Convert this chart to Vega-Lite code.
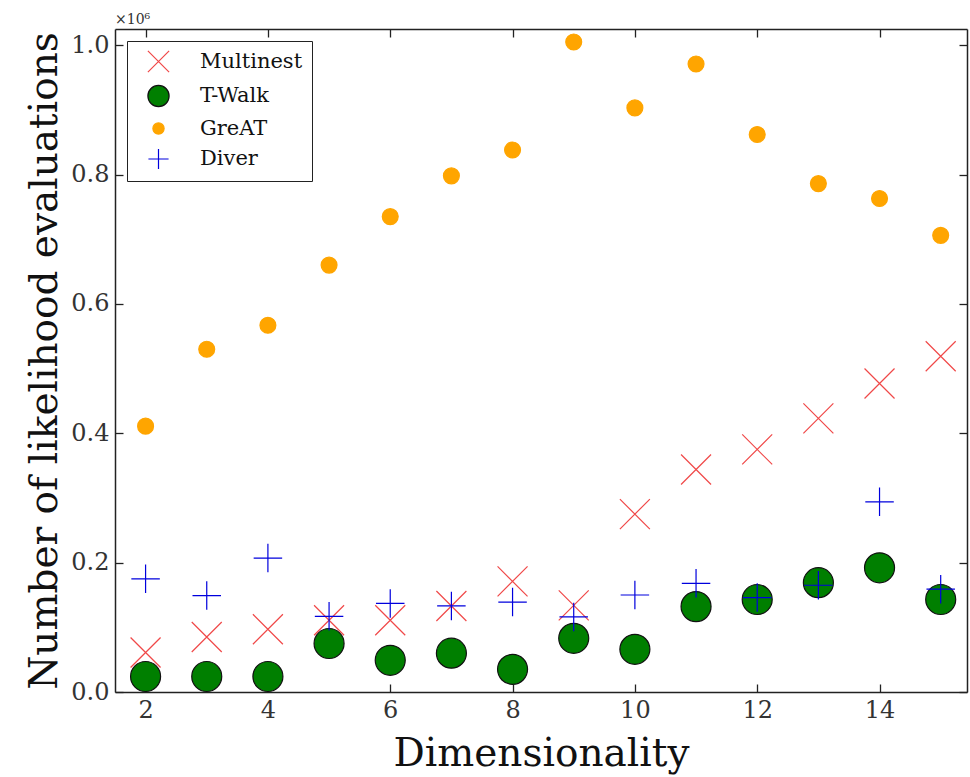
{
  "$schema": "https://vega.github.io/schema/vega-lite/v6.json",
  "width": 852,
  "height": 663,
  "autosize": "none",
  "padding": {"left": 115, "top": 29, "right": 3, "bottom": 85},
  "background": "white",
  "title": {"text": "×10⁶", "anchor": "start", "frame": "group", "offset": 1, "fontSize": 14, "font": "DejaVu Serif", "fontWeight": "normal", "color": "#333"},
  "config": {
    "view": {"stroke": null},
    "axis": {"grid": false, "domainColor": "#222", "domainWidth": 1.5, "tickColor": "#222", "tickWidth": 1.3, "labelFont": "DejaVu Serif", "labelFontSize": 24, "labelColor": "#333", "titleFont": "DejaVu Serif", "titleColor": "#111", "titleFontWeight": "normal", "titleFontSize": 39}
  },
  "data": {"values": [
    {"d": 2, "series": "Multinest", "n": 0.061},
    {"d": 3, "series": "Multinest", "n": 0.085},
    {"d": 4, "series": "Multinest", "n": 0.097},
    {"d": 5, "series": "Multinest", "n": 0.111},
    {"d": 6, "series": "Multinest", "n": 0.111},
    {"d": 7, "series": "Multinest", "n": 0.133},
    {"d": 8, "series": "Multinest", "n": 0.171},
    {"d": 9, "series": "Multinest", "n": 0.134},
    {"d": 10, "series": "Multinest", "n": 0.275},
    {"d": 11, "series": "Multinest", "n": 0.344},
    {"d": 12, "series": "Multinest", "n": 0.375},
    {"d": 13, "series": "Multinest", "n": 0.423},
    {"d": 14, "series": "Multinest", "n": 0.477},
    {"d": 15, "series": "Multinest", "n": 0.519},
    {"d": 2, "series": "T-Walk", "n": 0.024},
    {"d": 3, "series": "T-Walk", "n": 0.024},
    {"d": 4, "series": "T-Walk", "n": 0.024},
    {"d": 5, "series": "T-Walk", "n": 0.075},
    {"d": 6, "series": "T-Walk", "n": 0.049},
    {"d": 7, "series": "T-Walk", "n": 0.060},
    {"d": 8, "series": "T-Walk", "n": 0.035},
    {"d": 9, "series": "T-Walk", "n": 0.083},
    {"d": 10, "series": "T-Walk", "n": 0.066},
    {"d": 11, "series": "T-Walk", "n": 0.132},
    {"d": 12, "series": "T-Walk", "n": 0.143},
    {"d": 13, "series": "T-Walk", "n": 0.169},
    {"d": 14, "series": "T-Walk", "n": 0.192},
    {"d": 15, "series": "T-Walk", "n": 0.143},
    {"d": 2, "series": "GreAT", "n": 0.411},
    {"d": 3, "series": "GreAT", "n": 0.530},
    {"d": 4, "series": "GreAT", "n": 0.567},
    {"d": 5, "series": "GreAT", "n": 0.660},
    {"d": 6, "series": "GreAT", "n": 0.735},
    {"d": 7, "series": "GreAT", "n": 0.798},
    {"d": 8, "series": "GreAT", "n": 0.838},
    {"d": 9, "series": "GreAT", "n": 1.005},
    {"d": 10, "series": "GreAT", "n": 0.903},
    {"d": 11, "series": "GreAT", "n": 0.971},
    {"d": 12, "series": "GreAT", "n": 0.862},
    {"d": 13, "series": "GreAT", "n": 0.786},
    {"d": 14, "series": "GreAT", "n": 0.763},
    {"d": 15, "series": "GreAT", "n": 0.706},
    {"d": 2, "series": "Diver", "n": 0.175},
    {"d": 3, "series": "Diver", "n": 0.149},
    {"d": 4, "series": "Diver", "n": 0.207},
    {"d": 5, "series": "Diver", "n": 0.117},
    {"d": 6, "series": "Diver", "n": 0.137},
    {"d": 7, "series": "Diver", "n": 0.133},
    {"d": 8, "series": "Diver", "n": 0.139},
    {"d": 9, "series": "Diver", "n": 0.116},
    {"d": 10, "series": "Diver", "n": 0.150},
    {"d": 11, "series": "Diver", "n": 0.168},
    {"d": 12, "series": "Diver", "n": 0.146},
    {"d": 13, "series": "Diver", "n": 0.165},
    {"d": 14, "series": "Diver", "n": 0.294},
    {"d": 15, "series": "Diver", "n": 0.159}
  ]},
  "layer": [
    {
      "mark": {"type": "point", "strokeWidth": 1.2, "opacity": 1, "size": 900},
      "encoding": {
        "x": {"field": "d", "type": "quantitative", "scale": {"domain": [1.5, 15.43], "nice": false, "zero": false},
              "axis": {"title": "Dimensionality", "values": [2, 4, 6, 8, 10, 12, 14], "tickSize": -8, "labelPadding": 14, "titlePadding": 12}},
        "y": {"field": "n", "type": "quantitative", "scale": {"domain": [0, 1.025], "nice": false},
              "axis": {"title": "Number of likelihood evaluations", "values": [0, 0.2, 0.4, 0.6, 0.8, 1.0], "format": ".1f", "tickSize": -8, "labelPadding": 14, "titlePadding": 6}},
        "shape": {"field": "series", "type": "nominal",
                  "scale": {"domain": ["Multinest", "T-Walk", "GreAT", "Diver"], "range": ["M-1,-1L1,1M1,-1L-1,1", "M1,0A1,1,0,1,1,-1,0A1,1,0,1,1,1,0Z", "M0.53,0A0.53,0.53,0,1,1,-0.53,0A0.53,0.53,0,1,1,0.53,0Z", "M-0.95,0L0.95,0M0,-0.95L0,0.95"]},
                  "legend": {"title": null, "orient": "none", "legendX": 12, "legendY": 12, "fillColor": "white", "strokeColor": "#222", "padding": 9, "labelFont": "DejaVu Serif", "labelFontSize": 21, "labelColor": "#111", "rowPadding": 7.5, "symbolSize": 450, "symbolOffset": 11, "labelOffset": 30, "symbolStrokeWidth": 1.2,
                             "encode": {"legend": {"update": {"strokeWidth": {"value": 1.5}}}, "symbols": {"update": {"size": {"value": 450}}}}}},
        "fill": {"field": "series", "type": "nominal", "scale": {"domain": ["Multinest", "T-Walk", "GreAT", "Diver"], "range": ["transparent", "#007f00", "#ffa500", "transparent"]}},
        "stroke": {"field": "series", "type": "nominal", "scale": {"domain": ["Multinest", "T-Walk", "GreAT", "Diver"], "range": ["#f04848", "#111111", "#ffa500", "#0000dd"]}}
      }
    },
    {
      "mark": {"type": "point", "opacity": 0},
      "encoding": {
        "x": {"field": "d", "type": "quantitative", "axis": {"orient": "top", "title": null, "labels": false, "values": [2, 4, 6, 8, 10, 12, 14], "tickSize": -8}},
        "y": {"field": "n", "type": "quantitative", "axis": {"orient": "right", "title": null, "labels": false, "values": [0, 0.2, 0.4, 0.6, 0.8, 1.0], "tickSize": -8}}
      }
    }
  ],
  "resolve": {"axis": {"x": "independent", "y": "independent"}}
}
